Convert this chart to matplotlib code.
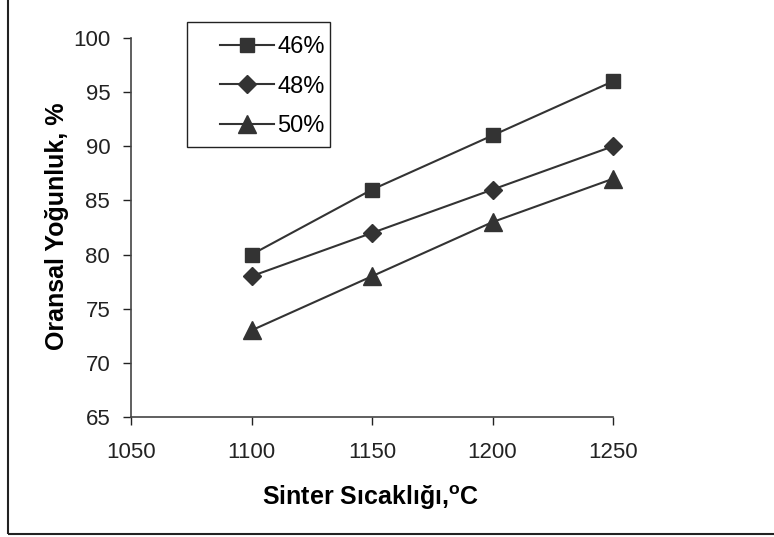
import matplotlib
matplotlib.use("Agg")
import matplotlib.pyplot as plt
from matplotlib.patches import Rectangle

plt.rcParams['font.family'] = ['Liberation Sans', 'DejaVu Sans']
plt.rcParams['mathtext.fontset'] = 'custom'
plt.rcParams['mathtext.rm'] = 'Liberation Sans'
plt.rcParams['mathtext.bf'] = 'Liberation Sans:bold'

# data
sicaklik = [1100, 1150, 1200, 1250]
y46 = [80, 86, 91, 96]
y48 = [78, 82, 86, 90]
y50 = [73, 78, 83, 87]
etiketler = ["46%", "48%", "50%"]
x_ticks = [1050, 1100, 1150, 1200, 1250]
y_ticks = [65, 70, 75, 80, 85, 90, 95, 100]

W, H = 774, 537
fig = plt.figure(figsize=(W/100, H/100), dpi=100)
ax = fig.add_axes([131/W, 1-417/H, 482/W, 379/H])

renk = '#333333'
ax.plot(sicaklik, y46, color=renk, lw=1.5, marker='s', ms=10.5, label=etiketler[0], clip_on=False)
ax.plot(sicaklik, y48, color=renk, lw=1.5, marker='D', ms=9.5, label=etiketler[1], clip_on=False)
ax.plot(sicaklik, y50, color=renk, lw=1.5, marker='^', ms=12.5, label=etiketler[2], clip_on=False)

ax.set_xlim(1050, 1250)
ax.set_ylim(65, 100)
ax.set_xticks(x_ticks)
ax.set_yticks(y_ticks)
for s in ['top', 'right']:
    ax.spines[s].set_visible(False)
for s in ['left', 'bottom']:
    ax.spines[s].set_color('#444444')
    ax.spines[s].set_linewidth(1.2)
ax.tick_params(direction='out', length=6, width=1, colors='#222222', labelsize=16)
ax.tick_params(axis='x', pad=12)
ax.tick_params(axis='y', pad=9)

fig.text(371/W, 1-498/H, r'Sinter Sıcaklığı,$^{\mathbf{o}}$C', fontsize=18,
         fontweight='bold', ha='center', va='center')
fig.text(57/W, 1-226/H, 'Oransal Yoğunluk, %', fontsize=18, fontweight='bold',
         rotation=90, ha='center', va='center')

leg = ax.legend(loc='upper left', bbox_to_anchor=(201/W, 1-17/H),
                bbox_transform=fig.transFigure, frameon=False, fontsize=17,
                handlelength=2.3, handletextpad=0.12, labelspacing=0.75,
                borderpad=0.3)
fig.add_artist(Rectangle((187/W, 1-147/H), 143/W, 125/H, transform=fig.transFigure,
                         fill=False, edgecolor='#222222', lw=1))

fig.add_artist(Rectangle((8/W, 3/H), 1.0, 1.0, transform=fig.transFigure,
                         fill=False, edgecolor='#222222', lw=1.5, clip_on=False))

fig.savefig('out.png', dpi=100)
